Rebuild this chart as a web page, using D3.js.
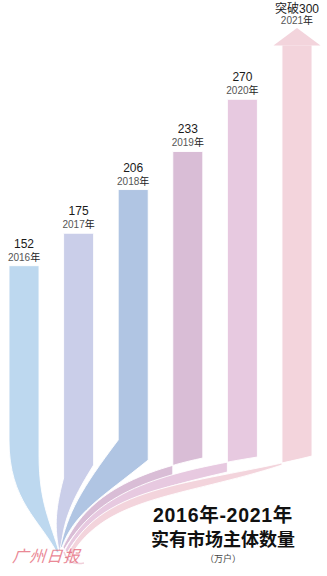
<!DOCTYPE html>
<html><head><meta charset="utf-8">
<script src="https://cdn.jsdelivr.net/npm/d3@7"></script>
<style>html,body{margin:0;padding:0;background:#fff}svg{display:block}</style>
</head><body>
<svg id="chart" width="327" height="576"></svg>
<script>
// ---- data ----
const years = ["2016", "2017", "2018", "2019", "2020", "2021"];
const values = [152, 175, 206, 233, 270, 300];
const valueLabels = ["152", "175", "206", "233", "270", "突破300"];
const yearSuffix = "年";
const barColors = ["#bdd8ef", "#cacee9", "#b0c5e3", "#d9bdd6", "#e7c9e0", "#f3d4dc"];
const titleLines = ["2016年-2021年", "实有市场主体数量"];
const unitLabel = "（万户）";
const watermark = "广州日报";

// ---- layout ----
const svg = d3.select("#chart");
const x = d3.scaleBand().domain(years).range([9, 312]).paddingInner(0.45).paddingOuter(0);
const y = d3.scaleLinear().domain([0, 300]).range([480, 57]);
const bw = x.bandwidth();
const last = years.length - 1;

// ribbon geometry (bend heights, departure/arrival angles in degrees from vertical, positive = leftward)
const geo = [
  {a:{bend:440, al:0,  ex:57, ey:553, be:-27, k:0.5},  b:{bend:455, al:0,  ex:59, ey:552, be:-15, k:0.5}},
  {a:{bend:478, al:15, ex:59, ey:551, be:-10, k:0.5},  b:{bend:465, al:32, ex:61, ey:549, be:5, k:0.5}},
  {a:{bend:440, al:37, ex:60, ey:549, be:12, k:0.5},   b:{bend:460, al:51, ex:62, ey:547, be:20, k:0.5}},
  {a:{bend:476, al:68, ex:64, ey:550, be:30, k:0.5},   b:{bend:458, al:78, ex:63, ey:547, be:25, k:0.5}},
  {a:{bend:472, al:77, ex:67, ey:553, be:30, k:0.48},  b:{bend:457, al:81, ex:65, ey:550, be:28, k:0.48}},
  {a:{bend:465, al:72, ex:71, ey:556, be:30, k:0.45},  b:{bend:456, al:76, ex:68, ey:553, be:27, k:0.45}}
];
const rad = d => d * Math.PI / 180;
function edge(sx, e) {
  const sy = e.bend;
  const dist = Math.hypot(e.ex - sx, e.ey - sy);
  const L1 = e.k * dist, L2 = 0.3 * dist;
  const p1 = [sx - Math.sin(rad(e.al)) * L1, sy + Math.cos(rad(e.al)) * L1];
  const p2 = [e.ex + Math.sin(rad(e.be)) * L2, e.ey - Math.cos(rad(e.be)) * L2];
  return {s:[sx, sy], p1, p2, e:[e.ex, e.ey]};
}
const headBase = y(values[last]) - 12;
const headTip = y(values[last]) - 29;

function ribbonPath(d, i) {
  const x0 = x(d), x1 = x(d) + bw;
  const top = i === last ? headBase : y(values[i]);
  const A = edge(x0, geo[i].a), B = edge(x1, geo[i].b);
  const p = d3.path();
  p.moveTo(x0, top);
  p.lineTo(A.s[0], A.s[1]);
  p.bezierCurveTo(A.p1[0], A.p1[1], A.p2[0], A.p2[1], A.e[0], A.e[1]);
  p.lineTo(B.e[0], B.e[1]);
  p.bezierCurveTo(B.p2[0], B.p2[1], B.p1[0], B.p1[1], B.s[0], B.s[1]);
  p.lineTo(x1, top);
  p.closePath();
  return p.toString();
}

svg.append("g").selectAll("path").data(years).join("path")
  .attr("d", (d, i) => ribbonPath(d, i))
  .attr("fill", (d, i) => barColors[i])
  .attr("stroke", "#fff").attr("stroke-width", 0.9).attr("stroke-linejoin", "round");

// arrow head for the last year
const cx = x(years[last]) + bw / 2;
svg.append("path")
  .attr("d", d3.line()([[x(years[last]) - 8.5, headBase + 0.5], [cx, headTip], [x(years[last]) + bw + 8.5, headBase + 0.5]]) + "Z")
  .attr("fill", barColors[last]);

// small swirl at the convergence
svg.append("path")
  .attr("d", "M64,552 Q68,566 84,563")
  .attr("fill", "none").attr("stroke", "#f0d0da").attr("stroke-width", 1.4);

// labels
const lab = svg.append("g").attr("text-anchor", "middle")
  .style("font-family", "'Liberation Sans', Arial, 'Noto Sans CJK SC', sans-serif");
years.forEach((d, i) => {
  const top = i === last ? headTip : y(values[i]);
  const c = x(d) + bw / 2;
  lab.append("text").attr("x", c).attr("y", top - (i === last ? 15 : 18))
    .attr("font-size", 12).attr("fill", "#1a1a1a").text(valueLabels[i]);
  const t = lab.append("text").attr("x", c).attr("y", top - (i === last ? 4 : 5))
    .attr("font-size", 10);
  t.append("tspan").attr("fill", "#555").text(d);
  t.append("tspan").attr("fill", "#222").text(yearSuffix);
});

// title
const title = svg.append("g").attr("text-anchor", "middle")
  .style("font-family", "'Liberation Sans', Arial, 'Noto Sans CJK SC', sans-serif")
  .attr("font-weight", "bold").attr("fill", "#111");
title.append("text").attr("x", 223).attr("y", 522).attr("font-size", 19.5).attr("letter-spacing", 0.7).text(titleLines[0]);
title.append("text").attr("x", 223).attr("y", 545.5).attr("font-size", 18)
  .style("font-family", "'Noto Sans CJK SC', sans-serif").text(titleLines[1]);
svg.append("text").attr("x", 223).attr("y", 561.5).attr("text-anchor", "middle")
  .attr("font-size", 9).attr("fill", "#444")
  .style("font-family", "'Noto Sans CJK SC', sans-serif").text(unitLabel);

// watermark
svg.append("text").attr("transform", "translate(12,562) skewX(-18)")
  .attr("font-size", 16).attr("fill", "#e2566a").attr("opacity", 0.7)
  .attr("letter-spacing", 1)
  .style("font-family", "'Noto Sans CJK SC', sans-serif").text(watermark);
</script>
</body></html>
